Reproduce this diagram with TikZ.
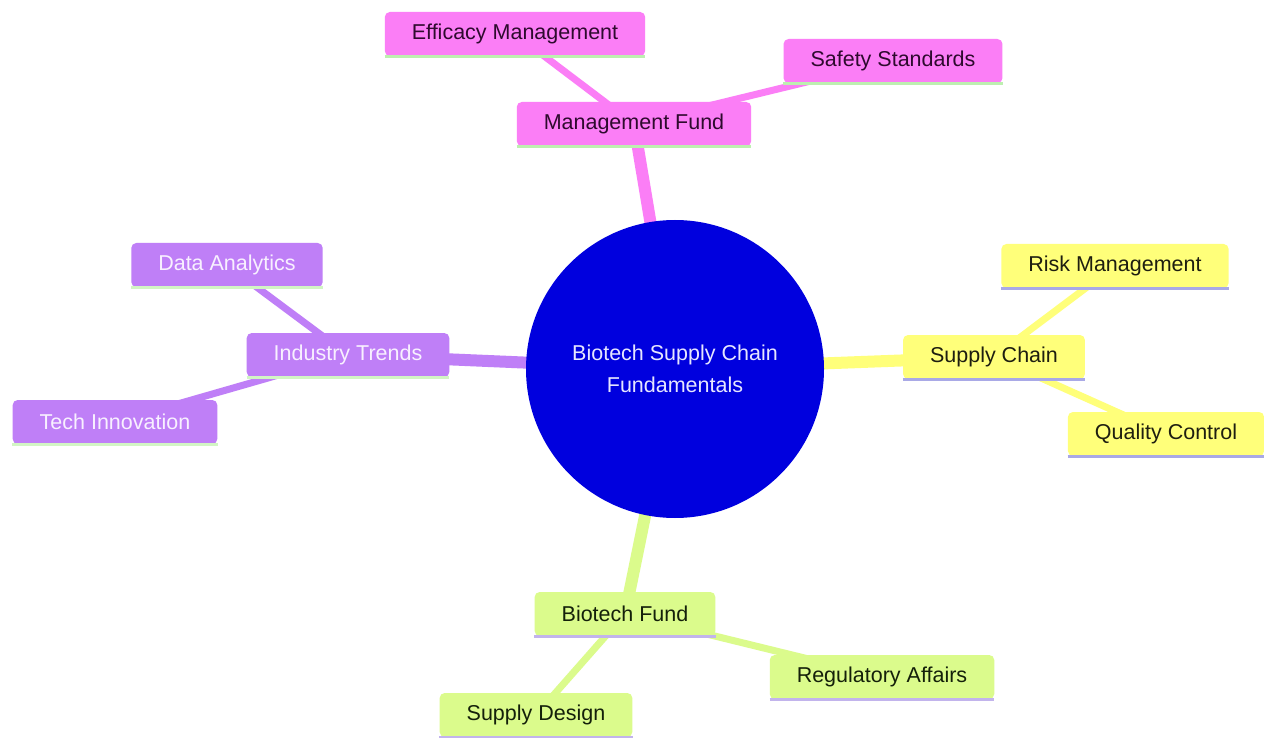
\documentclass[tikz,border=0pt]{standalone}
\usepackage{fontspec}
\setmainfont{Liberation Sans}
\pgfdeclarelayer{back}
\pgfdeclarelayer{edges}
\pgfsetlayers{back,edges,main}
\definecolor{rootblue}{HTML}{0000DE}
\definecolor{pinkf}{HTML}{FB7EF6}
\definecolor{yellowf}{HTML}{FFFF7A}
\definecolor{purplef}{HTML}{BF7FF7}
\definecolor{limef}{HTML}{DBFB8C}
\definecolor{greenline}{HTML}{BDEFB0}
\definecolor{lavline}{HTML}{A9A9E6}
\definecolor{lgreenline}{HTML}{D2F5C4}
\definecolor{plavline}{HTML}{C2B4EC}
\definecolor{pinktext}{HTML}{2E0A2E}
\definecolor{yellowtext}{HTML}{1E1E10}
\definecolor{purpletext}{HTML}{F8F0FF}
\definecolor{limetext}{HTML}{14200A}
\definecolor{roottext}{HTML}{E6E6FF}
\tikzset{
  box/.style={rectangle, rounded corners=5pt, inner xsep=27pt, inner ysep=0pt,
    minimum height=44pt, font=\fontsize{21.5}{25}\selectfont, anchor=center},
  pinkbox/.style={box, fill=pinkf, text=pinktext},
  yellowbox/.style={box, fill=yellowf, text=yellowtext},
  purplebox/.style={box, fill=purplef, text=purpletext},
  limebox/.style={box, fill=limef, text=limetext},
  mainedge/.style={line width=12pt},
  subedge/.style={line width=7pt},
  stripe/.style={line width=3pt}
}
\begin{document}
\begin{tikzpicture}[x=1pt, y=-1pt]
\begin{pgfonlayer}{back}
\fill[white] (0,0) rectangle (1264,738);
\end{pgfonlayer}
\useasboundingbox (0,0) rectangle (1264,738);

% root
\node[circle, fill=rootblue, minimum size=298pt, inner sep=0pt, text=roottext,
  align=center, font=\fontsize{21.5}{32}\selectfont] (root) at (675,369)
  {Biotech Supply Chain\\Fundamentals};

% pink section
\node[pinkbox] (mgmt) at (634,124) {Management Fund};
\node[pinkbox] (effic) at (515,34) {Efficacy Management};
\node[pinkbox] (safety) at (893,61) {Safety Standards};

% yellow section
\node[yellowbox] (supply) at (994,357) {Supply Chain};
\node[yellowbox] (risk) at (1115,266) {Risk Management};
\node[yellowbox] (quality) at (1166,434) {Quality Control};

% purple section
\node[purplebox] (industry) at (348,355) {Industry Trends};
\node[purplebox] (data) at (227,265) {Data Analytics};
\node[purplebox] (tech) at (115,422) {Tech Innovation};

% lime section
\node[limebox] (biotech) at (625,614) {Biotech Fund};
\node[limebox] (regul) at (882,677) {Regulatory Affairs};
\node[limebox] (sdesign) at (536,715) {Supply Design};

% bottom stripes
\foreach \n in {mgmt,effic,safety} \draw[stripe, greenline] (\n.south west) -- (\n.south east);
\foreach \n in {supply,risk,quality} \draw[stripe, lavline] (\n.south west) -- (\n.south east);
\foreach \n in {industry,data,tech} \draw[stripe, lgreenline] (\n.south west) -- (\n.south east);
\foreach \n in {biotech,regul,sdesign} \draw[stripe, plavline] (\n.south west) -- (\n.south east);

\begin{pgfonlayer}{edges}
\draw[mainedge, pinkf] (root.center) -- (mgmt.center);
\draw[subedge, pinkf] (mgmt.center) -- (effic.center);
\draw[subedge, pinkf] (mgmt.center) -- (safety.center);
\draw[mainedge, yellowf] (root.center) -- (supply.center);
\draw[subedge, yellowf] (supply.center) -- (risk.center);
\draw[subedge, yellowf] (supply.center) -- (quality.center);
\draw[mainedge, purplef] (root.center) -- (industry.center);
\draw[subedge, purplef] (industry.center) -- (data.center);
\draw[subedge, purplef] (industry.center) -- (tech.center);
\draw[mainedge, limef] (root.center) -- (biotech.center);
\draw[subedge, limef] (biotech.center) -- (regul.center);
\draw[subedge, limef] (biotech.center) -- (sdesign.center);
\end{pgfonlayer}
\end{tikzpicture}
\end{document}
